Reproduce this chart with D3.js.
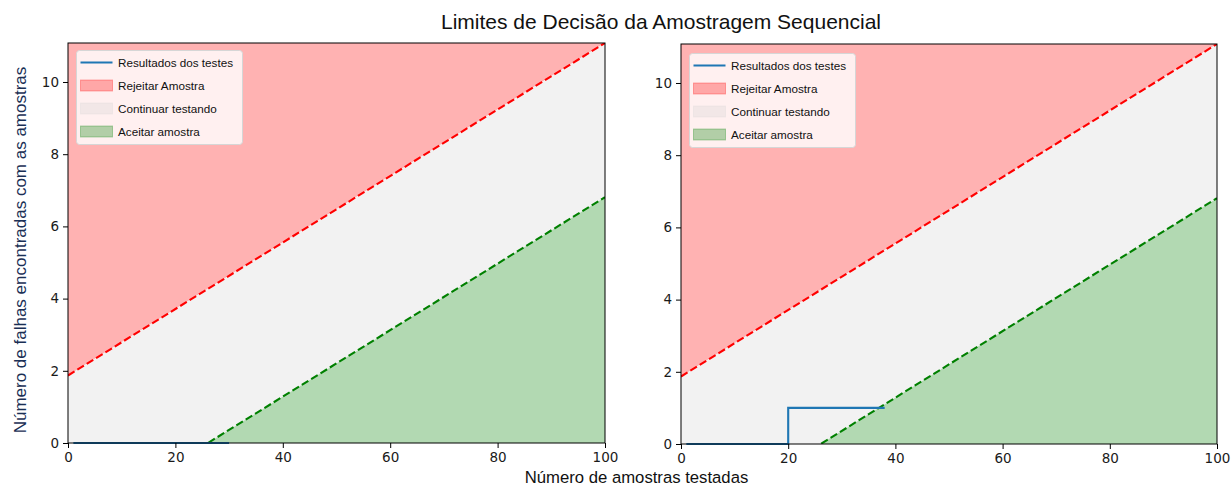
<!DOCTYPE html>
<html>
<head>
<meta charset="utf-8">
<script src="https://cdn.jsdelivr.net/npm/d3@7"></script>
<style>
  html, body { margin: 0; padding: 0; background: #fff; }
  svg { display: block; }
</style>
</head>
<body>
<svg id="chart" width="1232" height="488"></svg>
<script>
// ---- data ----
const limitSamples = [0, 100];
const rejectLimit = [1.87, 11.08];
const acceptLimit = [-2.40, 6.81];
const xTicks = [0, 20, 40, 60, 80, 100];
const yTicks = [0, 2, 4, 6, 8, 10];
const leftTestSamples = [1, 30];
const leftTestFailures = [0, 0];
const rightTestSamples = [1, 20, 38];
const rightTestFailures = [0, 1, 1];
const legendLabels = ["Resultados dos testes", "Rejeitar Amostra", "Continuar testando", "Aceitar amostra"];
const titleText = "Limites de Decisão da Amostragem Sequencial";
const xLabel = "Número de amostras testadas";
const yLabel = "Número de falhas encontradas com as amostras";

const svg = d3.select("#chart");
const sansFont = "'Liberation Sans', Arial, sans-serif";
const tickFont = "'DejaVu Sans', sans-serif";

const yMax = d3.max(rejectLimit);

const panels = [
  { x0: 68, x1: 605, y0: 443, y1: 43, samples: leftTestSamples, failures: leftTestFailures, legend: { x: 76, y: 50 } },
  { x0: 681, x1: 1217, y0: 444, y1: 44, samples: rightTestSamples, failures: rightTestFailures, legend: { x: 689, y: 53 } }
];

panels.forEach((p, i) => {
  const x = d3.scaleLinear().domain([0, 100]).range([p.x0, p.x1]);
  const y = d3.scaleLinear().domain([0, yMax]).range([p.y0, p.y1]);
  const g = svg.append("g");
  const clipId = "clip" + i;
  svg.append("defs").append("clipPath").attr("id", clipId)
    .append("rect").attr("x", p.x0).attr("y", p.y1).attr("width", p.x1 - p.x0).attr("height", p.y0 - p.y1);
  const plot = g.append("g").attr("clip-path", `url(#${clipId})`);

  const lim = limitSamples.map((n, k) => ({ n, r: rejectLimit[k], a: acceptLimit[k] }));

  // reject region
  plot.append("path").datum(lim)
    .attr("d", d3.area().x(d => x(d.n)).y0(d => y(d.r)).y1(() => y(yMax) - 2))
    .attr("fill", "rgb(255,178,178)");
  // continue region
  plot.append("path").datum(lim)
    .attr("d", d3.area().x(d => x(d.n)).y0(d => y(d.a)).y1(d => y(d.r)))
    .attr("fill", "rgb(242,242,242)");
  // accept region (between 0 and accept line where positive)
  const zeroN = limitSamples[0] + (0 - acceptLimit[0]) * (limitSamples[1] - limitSamples[0]) / (acceptLimit[1] - acceptLimit[0]);
  const accPts = [{ n: zeroN, a: 0 }, { n: limitSamples[1], a: acceptLimit[1] }];
  plot.append("path").datum(accPts)
    .attr("d", d3.area().x(d => x(d.n)).y0(() => y(0)).y1(d => y(d.a)))
    .attr("fill", "rgb(178,217,178)");

  // limit lines
  plot.append("path").datum(lim)
    .attr("d", d3.line().x(d => x(d.n)).y(d => y(d.r)))
    .attr("fill", "none").attr("stroke", "red").attr("stroke-width", 2.1)
    .attr("stroke-dasharray", "7.7,3.3");
  plot.append("path").datum(lim)
    .attr("d", d3.line().x(d => x(d.n)).y(d => y(d.a)))
    .attr("fill", "none").attr("stroke", "green").attr("stroke-width", 2.1)
    .attr("stroke-dasharray", "7.7,3.3");

  // test results step line
  const steps = p.samples.map((n, k) => ({ n, f: p.failures[k] }));
  g.append("path").datum(steps)
    .attr("d", d3.line().x(d => x(d.n)).y(d => y(d.f)).curve(d3.curveStepAfter))
    .attr("fill", "none").attr("stroke", "#1f77b4").attr("stroke-width", 2.1);

  // axes
  const xAxis = g.append("g").attr("transform", `translate(0,${p.y0})`)
    .call(d3.axisBottom(x).tickValues(xTicks).tickSize(5).tickPadding(4).tickFormat(d3.format("d")));
  const yAxis = g.append("g").attr("transform", `translate(${p.x0},0)`)
    .call(d3.axisLeft(y).tickValues(yTicks).tickSize(5).tickPadding(4).tickFormat(d3.format("d")));
  [xAxis, yAxis].forEach(a => {
    a.select(".domain").remove();
    a.selectAll("line").attr("stroke", "#000").attr("stroke-width", 1);
    a.selectAll("text").attr("font-family", tickFont).attr("font-size", 13.5).attr("fill", "#1a1a1a");
  });
  // spines
  g.append("rect").attr("x", p.x0).attr("y", p.y1).attr("width", p.x1 - p.x0).attr("height", p.y0 - p.y1)
    .attr("fill", "none").attr("stroke", "#000").attr("stroke-width", 1);

  // legend
  const L = g.append("g").attr("transform", `translate(${p.legend.x},${p.legend.y})`);
  L.append("rect").attr("x", 0.5).attr("y", 0.5).attr("width", 166).attr("height", 94).attr("rx", 3)
    .attr("fill", "rgba(255,255,255,0.8)").attr("stroke", "#d6d6d6").attr("stroke-width", 1);
  const rowY = [12.5, 35.5, 58.5, 81.5];
  L.append("line").attr("x1", 4.5).attr("x2", 36.5).attr("y1", rowY[0]).attr("y2", rowY[0])
    .attr("stroke", "#1f77b4").attr("stroke-width", 2.1);
  const patchFill = ["rgba(255,0,0,0.3)", "rgba(211,211,211,0.3)", "rgba(0,128,0,0.3)"];
  patchFill.forEach((c, k) => {
    L.append("rect").attr("x", 4.5).attr("y", rowY[k + 1] - 5.5).attr("width", 32).attr("height", 11)
      .attr("fill", c).attr("stroke", c).attr("stroke-width", 1);
  });
  legendLabels.forEach((t, k) => {
    L.append("text").attr("x", 42).attr("y", rowY[k] + 4).text(t)
      .attr("font-family", sansFont).attr("font-size", 11.7).attr("fill", "#111");
  });
});

// titles
svg.append("text").attr("x", 661).attr("y", 29).attr("text-anchor", "middle")
  .attr("font-family", sansFont).attr("font-size", 21).attr("fill", "#111").text(titleText);
svg.append("text").attr("x", 636.5).attr("y", 483).attr("text-anchor", "middle")
  .attr("font-family", sansFont).attr("font-size", 16.7).attr("fill", "#111").text(xLabel);
svg.append("text").attr("transform", "translate(26,250) rotate(-90)").attr("text-anchor", "middle")
  .attr("font-family", sansFont).attr("font-size", 17).attr("fill", "#1a2f55").text(yLabel);
</script>
</body>
</html>
